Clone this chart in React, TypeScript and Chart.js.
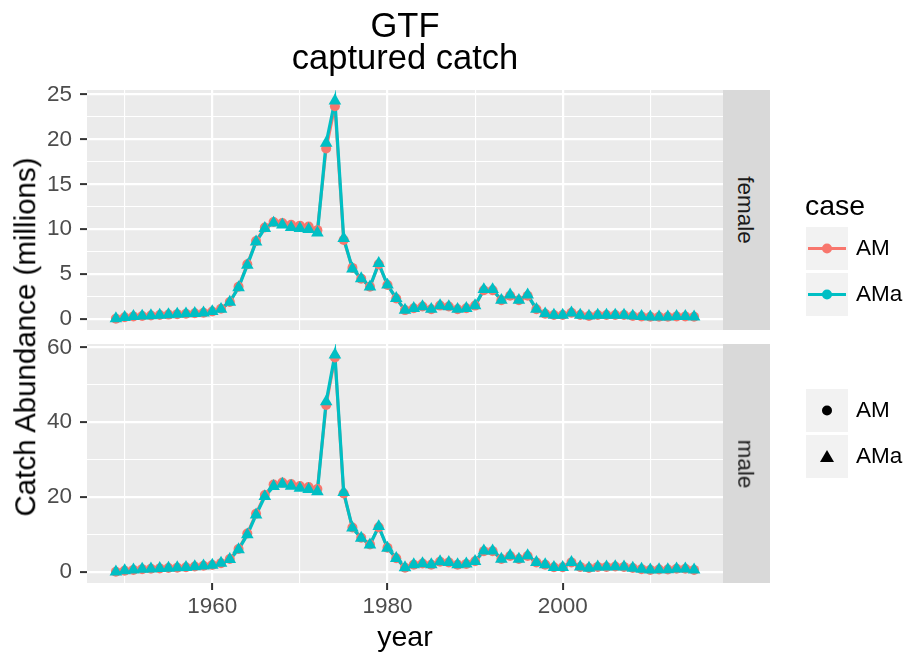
import React, { useEffect, useRef } from 'react';
import { Chart, registerables } from 'chart.js';

Chart.register(...registerables);

const FONT = "'Liberation Sans', Arial, Helvetica, sans-serif";

// ---------- data ----------
const years = [
  1949, 1950, 1951, 1952, 1953, 1954, 1955, 1956, 1957, 1958, 1959,
  1960, 1961, 1962, 1963, 1964, 1965, 1966, 1967, 1968, 1969,
  1970, 1971, 1972, 1973, 1974, 1975, 1976, 1977, 1978, 1979,
  1980, 1981, 1982, 1983, 1984, 1985, 1986, 1987, 1988, 1989,
  1990, 1991, 1992, 1993, 1994, 1995, 1996, 1997, 1998, 1999,
  2000, 2001, 2002, 2003, 2004, 2005, 2006, 2007, 2008, 2009,
  2010, 2011, 2012, 2013, 2014, 2015,
];

const femaleAM = [
  0.05, 0.2, 0.3, 0.35, 0.4, 0.45, 0.5, 0.55, 0.6, 0.65, 0.7,
  0.85, 1.15, 1.9, 3.6, 6.1, 8.7, 10.2, 10.8, 10.7, 10.5,
  10.4, 10.3, 9.9, 19.0, 23.7, 8.8, 5.7, 4.5, 3.6, 6.1,
  3.8, 2.3, 1.0, 1.2, 1.4, 1.1, 1.5, 1.4, 1.1, 1.2,
  1.5, 3.2, 3.2, 2.1, 2.6, 2.1, 2.6, 1.1, 0.6, 0.45,
  0.45, 0.7, 0.45, 0.35, 0.45, 0.45, 0.45, 0.45, 0.35, 0.3,
  0.25, 0.25, 0.25, 0.3, 0.3, 0.25,
];

const femaleAMa = [
  0.05, 0.2, 0.3, 0.35, 0.4, 0.45, 0.5, 0.55, 0.6, 0.65, 0.7,
  0.85, 1.1, 1.9, 3.5, 6.0, 8.6, 10.1, 10.7, 10.5, 10.2,
  10.1, 10.0, 9.6, 19.6, 24.3, 9.0, 5.6, 4.5, 3.6, 6.2,
  3.8, 2.3, 1.0, 1.2, 1.4, 1.1, 1.5, 1.4, 1.1, 1.2,
  1.5, 3.3, 3.3, 2.1, 2.7, 2.1, 2.7, 1.1, 0.6, 0.45,
  0.45, 0.7, 0.45, 0.35, 0.45, 0.45, 0.45, 0.45, 0.35, 0.3,
  0.25, 0.25, 0.25, 0.3, 0.3, 0.25,
];

const maleAM = [
  0.1, 0.4, 0.6, 0.8, 0.9, 1.0, 1.1, 1.2, 1.3, 1.5, 1.7,
  1.9, 2.4, 3.5, 6.2, 10.3, 15.6, 20.6, 23.4, 23.9, 23.5,
  23.0, 22.7, 22.2, 44.6, 57.3, 21.0, 11.9, 9.2, 7.4, 12.0,
  6.5, 3.7, 1.2, 2.0, 2.3, 2.0, 2.8, 2.6, 2.0, 2.2,
  2.9, 5.6, 5.6, 3.5, 4.3, 3.5, 4.3, 2.6, 2.0, 1.3,
  1.3, 2.6, 1.4, 1.1, 1.4, 1.4, 1.5, 1.4, 1.1, 0.8,
  0.6, 0.7, 0.7, 0.9, 0.9, 0.6,
];

const maleAMa = [
  0.1, 0.4, 0.6, 0.8, 0.9, 1.0, 1.1, 1.2, 1.3, 1.5, 1.7,
  1.9, 2.4, 3.4, 6.0, 10.0, 15.3, 20.2, 22.9, 23.5, 23.0,
  22.4, 22.1, 21.5, 45.5, 58.0, 21.3, 11.8, 9.1, 7.3, 12.2,
  6.4, 3.7, 1.2, 2.0, 2.3, 2.0, 2.8, 2.6, 2.0, 2.2,
  2.9, 5.7, 5.7, 3.5, 4.4, 3.5, 4.4, 2.6, 2.0, 1.3,
  1.3, 2.6, 1.4, 1.1, 1.4, 1.4, 1.5, 1.4, 1.1, 0.8,
  0.6, 0.7, 0.7, 0.9, 0.9, 0.6,
];

const xGrid = [1950, 1960, 1970, 1980, 1990, 2000, 2010];
const xLabels = [1960, 1980, 2000];
const femaleGrid = [0, 2.5, 5, 7.5, 10, 12.5, 15, 17.5, 20, 22.5, 25];
const femaleLabels = [0, 5, 10, 15, 20, 25];
const maleGrid = [0, 10, 20, 30, 40, 50, 60];
const maleLabels = [0, 20, 40, 60];

const caseNames = ['AM', 'AMa'];
const caseColors = ['#F8766D', '#00BFC4'];

// ---------- helpers ----------
const panelBg = {
  id: 'panelBg',
  beforeDraw(chart: any) {
    const { ctx, chartArea: a } = chart;
    ctx.save();
    ctx.fillStyle = '#EBEBEB';
    ctx.fillRect(a.left, a.top, a.right - a.left, a.bottom - a.top);
    ctx.restore();
  },
};

function makeConfig(
  am: number[],
  ama: number[],
  yMin: number,
  yMax: number,
  yGrid: number[],
  yLabels: number[],
  top: number,
  bottom: number,
  showX: boolean
): any {
  const pts = (arr: number[]) => years.map((yr, i) => ({ x: yr, y: arr[i] }));
  const X_AXIS_H = showX ? 40 : 0;
  const tickFont = { family: FONT, size: 22.5 };
  return {
    type: 'line',
    data: {
      datasets: [
        {
          label: 'AMa points',
          data: pts(ama),
          showLine: false,
          pointStyle: 'triangle',
          pointRadius: 7.3,
          pointBackgroundColor: caseColors[1],
          pointBorderWidth: 0,
          borderColor: caseColors[1],
          order: 1,
        },
        {
          label: 'AM points',
          data: pts(am),
          showLine: false,
          pointStyle: 'circle',
          pointRadius: 5,
          pointBackgroundColor: caseColors[0],
          pointBorderWidth: 0,
          borderColor: caseColors[0],
          order: 2,
        },
        {
          label: 'AMa line',
          data: pts(ama),
          showLine: true,
          pointRadius: 0,
          borderColor: caseColors[1],
          borderWidth: 3.2,
          tension: 0,
          order: 3,
        },
        {
          label: 'AM line',
          data: pts(am),
          showLine: true,
          pointRadius: 0,
          borderColor: caseColors[0],
          borderWidth: 3,
          tension: 0,
          order: 4,
        },
      ],
    },
    options: {
      responsive: false,
      animation: false,
      events: [],
      layout: {
        padding: { top, left: 0, right: 908 - 723, bottom: 657 - bottom - X_AXIS_H },
      },
      plugins: { legend: { display: false }, tooltip: { enabled: false }, title: { display: false } },
      scales: {
        x: {
          type: 'linear',
          min: 1945.7,
          max: 2018.3,
          afterBuildTicks: (s: any) => {
            s.ticks = xGrid.map((v) => ({ value: v }));
          },
          afterFit: (s: any) => {
            s.height = X_AXIS_H;
          },
          ticks: {
            display: showX,
            autoSkip: false,
            maxRotation: 0,
            padding: 3.5,
            color: '#4D4D4D',
            font: tickFont,
            callback: (v: number) => (xLabels.includes(v) ? String(v) : ''),
          },
          grid: {
            color: '#FFFFFF',
            lineWidth: (c: any) => (xLabels.includes(c.tick?.value) ? 2.2 : 1.1),
            drawTicks: showX,
            tickLength: 7,
            tickWidth: 2,
            tickColor: (c: any) => (xLabels.includes(c.tick?.value) ? '#333333' : 'rgba(0,0,0,0)'),
          },
          border: { display: false },
        },
        y: {
          type: 'linear',
          min: yMin,
          max: yMax,
          afterBuildTicks: (s: any) => {
            s.ticks = yGrid.map((v) => ({ value: v }));
          },
          afterFit: (s: any) => {
            s.width = 87;
          },
          ticks: {
            autoSkip: false,
            padding: 8,
            color: '#4D4D4D',
            font: tickFont,
            callback: (v: number) => (yLabels.includes(v) ? String(v) : ''),
          },
          grid: {
            color: '#FFFFFF',
            lineWidth: (c: any) => (yLabels.includes(c.tick?.value) ? 2.2 : 1.1),
            drawTicks: true,
            tickLength: 7,
            tickWidth: 2,
            tickColor: (c: any) => (yLabels.includes(c.tick?.value) ? '#333333' : 'rgba(0,0,0,0)'),
          },
          border: { display: false },
        },
      },
    },
    plugins: [panelBg],
  };
}

// text whose baseline sits at `baseline`
function Txt(props: {
  x: number;
  baseline: number;
  size: number;
  color?: string;
  align?: 'left' | 'center';
  children: any;
}) {
  const { x, baseline, size, color = '#000', align = 'center', children } = props;
  return (
    <div
      style={{
        position: 'absolute',
        left: x,
        top: baseline - 0.8465 * size,
        fontSize: size,
        lineHeight: `${size}px`,
        color,
        whiteSpace: 'nowrap',
        transform: align === 'center' ? 'translateX(-50%)' : undefined,
      }}
    >
      {children}
    </div>
  );
}

function RotTxt(props: { cx: number; cy: number; size: number; angle: number; color?: string; children: any }) {
  const { cx, cy, size, angle, color = '#000', children } = props;
  return (
    <div
      style={{
        position: 'absolute',
        left: cx,
        top: cy,
        fontSize: size,
        lineHeight: `${size}px`,
        color,
        whiteSpace: 'nowrap',
        transform: `translate(-50%, -50%) rotate(${angle}deg)`,
      }}
    >
      {children}
    </div>
  );
}

function KeyBox(props: { top: number; children: any }) {
  return (
    <svg
      width={42}
      height={43}
      style={{ position: 'absolute', left: 806, top: props.top, background: '#F2F2F2' }}
    >
      {props.children}
    </svg>
  );
}

export default function App() {
  const c1 = useRef<HTMLCanvasElement>(null);
  const c2 = useRef<HTMLCanvasElement>(null);

  useEffect(() => {
    const ch1 = new Chart(
      c1.current as HTMLCanvasElement,
      makeConfig(femaleAM, femaleAMa, -1.215, 25.5, femaleGrid, femaleLabels, 90, 330, false)
    );
    const ch2 = new Chart(
      c2.current as HTMLCanvasElement,
      makeConfig(maleAM, maleAMa, -2.9, 60.9, maleGrid, maleLabels, 344, 583, true)
    );
    return () => {
      ch1.destroy();
      ch2.destroy();
    };
  }, []);

  const colorKeyTops = [227, 273];
  const shapeKeyTops = [389, 435];

  return (
    <div
      style={{
        position: 'absolute',
        left: 0,
        top: 0,
        width: 908,
        height: 657,
        background: '#FFFFFF',
        overflow: 'hidden',
        fontFamily: FONT,
      }}
    >
      <canvas ref={c1} width={908} height={657} style={{ position: 'absolute', left: 0, top: 0 }} />
      <canvas ref={c2} width={908} height={657} style={{ position: 'absolute', left: 0, top: 0 }} />

      {/* title */}
      <Txt x={405} baseline={37} size={34.5}>GTF</Txt>
      <Txt x={405} baseline={69} size={34.5}>captured catch</Txt>

      {/* axis titles */}
      <Txt x={405} baseline={646} size={28.5}>year</Txt>
      <RotTxt cx={25} cy={337} size={29.5} angle={-90}>Catch Abundance (millions)</RotTxt>

      {/* facet strips */}
      <div style={{ position: 'absolute', left: 723, top: 90, width: 47, height: 240, background: '#D9D9D9' }} />
      <div style={{ position: 'absolute', left: 723, top: 344, width: 47, height: 239, background: '#D9D9D9' }} />
      <RotTxt cx={745} cy={210} size={22.5} angle={90} color="#1A1A1A">female</RotTxt>
      <RotTxt cx={745} cy={463.5} size={22.5} angle={90} color="#1A1A1A">male</RotTxt>

      {/* colour legend */}
      <Txt x={805} baseline={215} size={28.5} align="left">case</Txt>
      {caseNames.map((n, i) => (
        <React.Fragment key={'c' + n}>
          <KeyBox top={colorKeyTops[i]}>
            <line x1={2} y1={21.5} x2={40} y2={21.5} stroke={caseColors[i]} strokeWidth={3} />
            <circle cx={21} cy={21.5} r={5} fill={caseColors[i]} />
          </KeyBox>
          <Txt x={856} baseline={colorKeyTops[i] + 21.5 + 8} size={22.5} align="left">{n}</Txt>
        </React.Fragment>
      ))}

      {/* shape legend */}
      {caseNames.map((n, i) => (
        <React.Fragment key={'s' + n}>
          <KeyBox top={shapeKeyTops[i]}>
            {i === 0 ? (
              <circle cx={21} cy={21.5} r={5} fill="#000" />
            ) : (
              <polygon points="21,15 28,27 14,27" fill="#000" />
            )}
          </KeyBox>
          <Txt x={856} baseline={shapeKeyTops[i] + 21.5 + 8} size={22.5} align="left">{n}</Txt>
        </React.Fragment>
      ))}
    </div>
  );
}
